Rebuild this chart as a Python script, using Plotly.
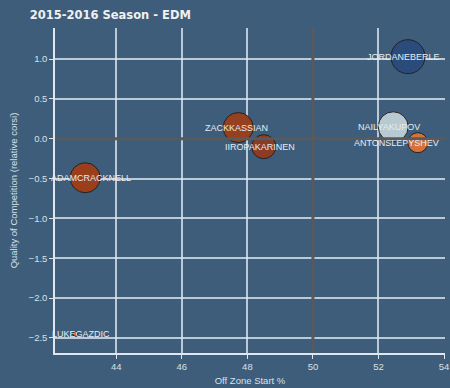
import plotly.graph_objects as go

players = ["JORDANEBERLE", "NAILYAKUPOV", "ANTONSLEPYSHEV", "ZACKKASSIAN",
           "IIROPAKARINEN", "ADAMCRACKNELL", "LUKEGAZDIC"]
ozs = [52.9, 52.45, 53.2, 47.72, 48.5, 43.05, 42.75]
qoc = [1.03, 0.15, -0.05, 0.14, -0.10, -0.49, -2.45]
bubble = [34, 30, 20, 30, 24, 30, 5]
colors = ["#2b4c7b", "#b7c9d1", "#d3733a", "#97401f", "#8c3b24", "#9b3e1c", "#cc5a2c"]

# label nudges (pixels) keeping names inside the plot area
label_shift = {"JORDANEBERLE": -4, "NAILYAKUPOV": -4, "ANTONSLEPYSHEV": -21,
               "ZACKKASSIAN": -2, "IIROPAKARINEN": -4, "ADAMCRACKNELL": 6,
               "LUKEGAZDIC": 6}

BG = "#3d5d7a"
GRID = "rgba(220,230,240,0.8)"
TXT = "#d8e0e8"

fig = go.Figure()
fig.add_trace(go.Scatter(
    x=ozs, y=qoc, mode="markers",
    marker=dict(size=bubble, color=colors, opacity=1,
                line=dict(color="#222222", width=1)),
    hoverinfo="skip", showlegend=False))

for name, xv, yv in zip(players, ozs, qoc):
    fig.add_annotation(x=xv, y=yv, xref="x", yref="y", text=name, showarrow=False,
                       xanchor="center", yanchor="middle", xshift=label_shift[name],
                       font=dict(family="Liberation Sans, Arial", size=9, color="#e8ecf0"))

fig.add_shape(type="line", xref="x", yref="paper", x0=50, x1=50, y0=0, y1=1,
              line=dict(color="#5a5a5a", width=3), layer="above")
fig.add_shape(type="line", xref="paper", yref="y", x0=0, x1=1, y0=0, y1=0,
              line=dict(color="#5a5a5a", width=3), layer="above")

fig.update_layout(
    width=450, height=388,
    paper_bgcolor=BG, plot_bgcolor=BG,
    margin=dict(l=55, r=5, t=28, b=35, autoexpand=False),
    title=dict(text="<b>2015-2016 Season - EDM</b>", x=0.066, xanchor="left",
               y=0.962, yanchor="middle",
               font=dict(family="DejaVu Sans", size=11.5, color="#f0f0f0")),
    font=dict(family="Liberation Sans, Arial", size=9.5, color=TXT),
    xaxis=dict(range=[42.13, 54.03], tickvals=[44, 46, 48, 50, 52, 54],
               showgrid=True, gridcolor=GRID, gridwidth=1.5, zeroline=False,
               showline=True, linecolor="#e0e6ee", linewidth=1.5,
               ticks="outside", ticklen=4, tickcolor="#e0e6ee",
               title=dict(text="Off Zone Start %", standoff=6,
                          font=dict(size=9.5, color=TXT))),
    yaxis=dict(range=[-2.69, 1.39], tickvals=[-2.5, -2.0, -1.5, -1.0, -0.5, 0.0, 0.5, 1.0],
               tickformat=".1f",
               showgrid=True, gridcolor=GRID, gridwidth=1.5, zeroline=False,
               showline=True, linecolor="#e0e6ee", linewidth=1.5,
               ticks="outside", ticklen=4, tickcolor="#e0e6ee",
               title=dict(text="Quality of Competition (relative corsi)", standoff=9,
                          font=dict(size=9.5, color=TXT))),
)

fig.write_html("out.html", config={"displayModeBar": False},
               post_script="document.body.style.margin='0';document.body.style.overflow='hidden';")
